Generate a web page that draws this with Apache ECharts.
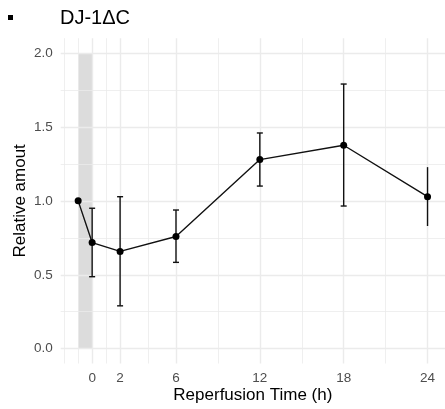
<!DOCTYPE html>
<html><head><meta charset="utf-8">
<script src="https://cdn.jsdelivr.net/npm/echarts@6/dist/echarts.min.js"></script>
<style>html,body{margin:0;padding:0;background:#fff}#c{width:445px;height:409px}</style>
</head><body><div id="c"></div>
<script>
const times = [-1, 0, 2, 6, 12, 18, 24];
const means = [1.0, 0.718, 0.658, 0.759, 1.279, 1.376, 1.028];
const lower = [null, 0.487, 0.29, 0.584, 1.10, 0.965, 0.83];
const upper = [null, 0.95, 1.028, 0.938, 1.459, 1.79, 1.228];
const hasCap = [false, true, true, true, true, true, false];
const xTicks = [0, 2, 6, 12, 18, 24];
const xGrid = [-2, -1, 0, 1, 2, 4, 6, 9, 12, 15, 18, 21, 24];
const xMajor = [0, 2, 6, 12, 18, 24];
const yTicks = [0, 0.5, 1.0, 1.5, 2.0];
const yGrid = [0, 0.25, 0.5, 0.75, 1.0, 1.25, 1.5, 1.75, 2.0];
const ischemia = [-1, 0];
const ischemiaY = [0, 2];

const chart = echarts.init(document.getElementById('c'), null, {renderer: 'canvas'});
const font = 'Liberation Sans, Arial, Helvetica, sans-serif';

const gridLines = [];
xGrid.forEach(v => gridLines.push({xAxis: v, lineStyle: {type: 'solid', color: '#EBEBEB', width: xMajor.includes(v) ? 1.4 : 0.8}}));
yGrid.forEach(v => gridLines.push({yAxis: v, lineStyle: {type: 'solid', color: '#EBEBEB', width: yTicks.includes(v) ? 1.4 : 0.8}}));

const errData = times.map((t, i) => [t, lower[i], upper[i], hasCap[i] ? 1 : 0]).filter(d => d[1] !== null);

chart.setOption({
  animation: false,
  title: {text: 'DJ-1ΔC', left: 60, top: 8, padding: 0, textStyle: {fontFamily: font, fontSize: 20, fontWeight: 'normal', color: '#000'}},
  graphic: [{type: 'rect', shape: {x: 8, y: 15, width: 5, height: 5}, style: {fill: '#000'}}],
  grid: {left: 60.7, top: 38.2, width: 386.3, height: 326.7},
  xAxis: {
    type: 'value', min: -2.25, max: 25.25,
    name: 'Reperfusion Time (h)', nameLocation: 'middle', nameGap: 23.5, nameMoveOverlap: false,
    nameTextStyle: {fontFamily: font, fontSize: 17, color: '#000'},
    axisLine: {show: false}, axisTick: {show: false}, splitLine: {show: false},
    axisLabel: {customValues: xTicks, margin: 8, fontFamily: font, fontSize: 13.5, color: '#4D4D4D'}
  },
  yAxis: {
    type: 'value', min: -0.1, max: 2.1,
    name: 'Relative amout', nameLocation: 'middle', nameGap: 32, nameRotate: 90, nameMoveOverlap: false,
    nameTextStyle: {fontFamily: font, fontSize: 17, color: '#000'},
    axisLine: {show: false}, axisTick: {show: false}, splitLine: {show: false},
    axisLabel: {customValues: yTicks, margin: 8, fontFamily: font, fontSize: 13.5, color: '#4D4D4D', formatter: v => v.toFixed(1)}
  },
  series: [
    {
      type: 'line', data: [], silent: true, z: 0,
      markLine: {silent: true, symbol: 'none', label: {show: false}, animation: false, data: gridLines},
      markArea: {silent: true, itemStyle: {color: '#DCDCDC'}, data: [[{xAxis: ischemia[0], yAxis: ischemiaY[0]}, {xAxis: ischemia[1], yAxis: ischemiaY[1]}]]}
    },
    {
      type: 'custom', z: 10, data: errData,
      renderItem: (params, api) => {
        const x = api.value(0);
        const lo = api.coord([x, api.value(1)]);
        const hi = api.coord([x, api.value(2)]);
        const cap = api.value(3) ? 3 : 0;
        const style = {stroke: '#111', lineWidth: 1.4};
        const children = [{type: 'line', shape: {x1: lo[0], y1: lo[1], x2: hi[0], y2: hi[1]}, style}];
        if (cap) {
          children.push({type: 'line', shape: {x1: lo[0] - cap, y1: lo[1], x2: lo[0] + cap, y2: lo[1]}, style});
          children.push({type: 'line', shape: {x1: hi[0] - cap, y1: hi[1], x2: hi[0] + cap, y2: hi[1]}, style});
        }
        return {type: 'group', children};
      }
    },
    {
      type: 'line', z: 11, data: times.map((t, i) => [t, means[i]]),
      symbol: 'circle', symbolSize: 7, showSymbol: true,
      lineStyle: {color: '#111', width: 1.4}, itemStyle: {color: '#000'}
    }
  ]
});
</script></body></html>
